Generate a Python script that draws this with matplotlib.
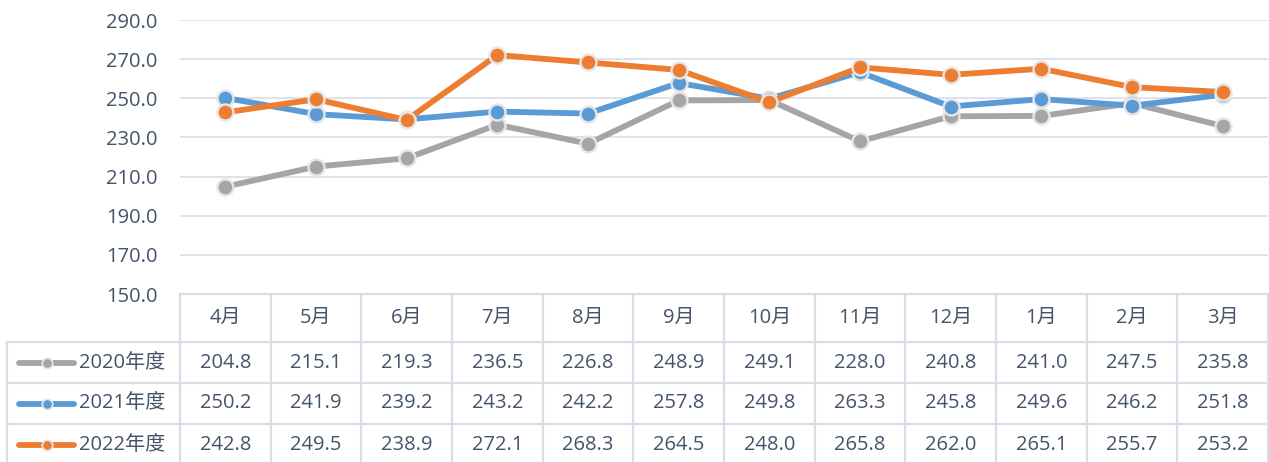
import numpy as np
import matplotlib
matplotlib.use('Agg')
import matplotlib.pyplot as plt
from matplotlib.lines import Line2D

plt.rcParams['font.family'] = ['Open Sans', 'Noto Sans CJK SC', 'DejaVu Sans']

# データ
months = ['4月', '5月', '6月', '7月', '8月', '9月', '10月', '11月', '12月', '1月', '2月', '3月']
series_names = ['2020年度', '2021年度', '2022年度']
v2020 = [204.8, 215.1, 219.3, 236.5, 226.8, 248.9, 249.1, 228.0, 240.8, 241.0, 247.5, 235.8]
v2021 = [250.2, 241.9, 239.2, 243.2, 242.2, 257.8, 249.8, 263.3, 245.8, 249.6, 246.2, 251.8]
v2022 = [242.8, 249.5, 238.9, 272.1, 268.3, 264.5, 248.0, 265.8, 262.0, 265.1, 255.7, 253.2]
colors = ['#A5A5A5', '#5B9BD5', '#ED7D31']
yticks = [150, 170, 190, 210, 230, 250, 270, 290]

W, H = 1269, 462
txt_color = '#44546A'
grid_color = '#D9DDE5'
edge_color = '#E6E6E6'
fs = 14.5

fig = plt.figure(figsize=(W / 100, H / 100), dpi=100)

# plot area (pixel geometry)
left, right, top, bottom = 180, 1268, 20, 294
ax = fig.add_axes([left / W, 1 - bottom / H, (right - left) / W, (bottom - top) / H])
n = len(months)
x = np.arange(n)
ax.set_xlim(-0.5, n - 0.5)
ax.set_ylim(150, 290)
ax.set_yticks(yticks)
ax.set_yticklabels(['%.1f' % t for t in yticks], fontsize=fs, color=txt_color)
ax.tick_params(axis='y', length=0, pad=16)
ax.set_xticks([])
for s in ax.spines.values():
    s.set_visible(False)
ax.grid(axis='y', color=grid_color, linewidth=1.2)
ax.set_axisbelow(True)

data = [v2020, v2021, v2022]
for vals, c in zip(data, colors):
    ax.plot(x, vals, '-o', color=c, linewidth=4.2, markersize=11.5,
            markerfacecolor=c, markeredgecolor=edge_color, markeredgewidth=1.7,
            solid_joinstyle='round', clip_on=False)

# data table, drawn in pixel coords on an overlay axes
tb = fig.add_axes([0, 0, 1, 1])
tb.set_xlim(0, W)
tb.set_ylim(H, 0)
tb.axis('off')
tb.patch.set_alpha(0)

row_edges = [294, 342, 383, 424, 465]
col_w = (right - left) / n
lab_left = 7
lc = dict(color=grid_color, linewidth=1.6)

# horizontal lines
tb.plot([left, right], [row_edges[0]] * 2, **lc)
for ye in row_edges[1:]:
    tb.plot([lab_left, right], [ye] * 2, **lc)
# vertical lines
for i in range(n + 1):
    xe = left + i * col_w
    tb.plot([xe, xe], [row_edges[0], H], **lc)
tb.plot([lab_left, lab_left], [row_edges[1], H], **lc)

# header
for i, m in enumerate(months):
    tb.text(left + (i + 0.5) * col_w, (row_edges[0] + row_edges[1]) / 2, m,
            ha='center', va='center', fontsize=fs, color=txt_color)

# rows
for r, (name, vals, c) in enumerate(zip(series_names, data, colors)):
    yc = (row_edges[r + 1] + row_edges[r + 2]) / 2
    tb.add_line(Line2D([19, 74], [yc, yc], color=c, linewidth=4.2,
                       solid_capstyle='round'))
    tb.add_line(Line2D([47], [yc], marker='o', markersize=7.5, color=c,
                       markeredgecolor=edge_color, markeredgewidth=1.3))
    tb.text(79, yc, name, ha='left', va='center', fontsize=fs, color=txt_color)
    for i, v in enumerate(vals):
        tb.text(left + (i + 0.5) * col_w, yc, '%.1f' % v,
                ha='center', va='center', fontsize=fs, color=txt_color)

fig.savefig('out.png', dpi=100)
